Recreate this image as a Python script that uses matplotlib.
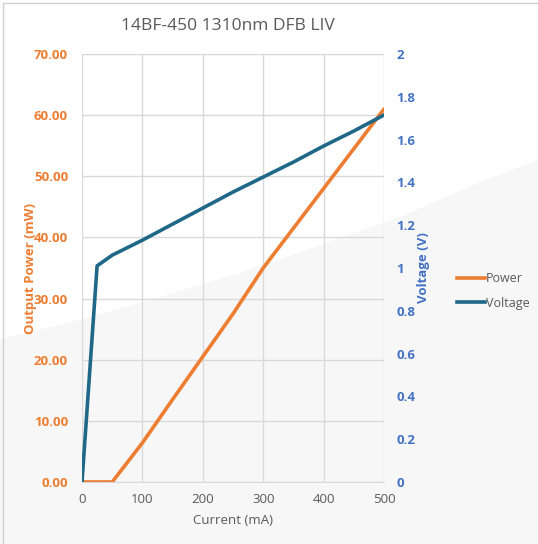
import matplotlib.pyplot as plt
from matplotlib.patches import Polygon
from matplotlib.lines import Line2D

plt.rcParams['font.family'] = ['Open Sans', 'DejaVu Sans']

current = [0, 25, 50, 100, 150, 200, 250, 300, 350, 400, 450, 500]
power = [0, 0, 0, 6.4, 13.5, 20.5, 27.5, 35.0, 41.5, 48.0, 54.5, 61.0]
voltage = [0, 1.01, 1.06, 1.13, 1.205, 1.28, 1.355, 1.425, 1.495, 1.57, 1.64, 1.715]

power_ticks = [0, 10, 20, 30, 40, 50, 60, 70]
volt_ticks = [0, 0.2, 0.4, 0.6, 0.8, 1, 1.2, 1.4, 1.6, 1.8, 2]
volt_labels = ['0', '0.2', '0.4', '0.6', '0.8', '1', '1.2', '1.4', '1.6', '1.8', '2']

orange = '#ED7D31'
teal = '#1F6888'
blue = '#4472C4'
grey_text = '#595959'

W, H = 538, 544
fig = plt.figure(figsize=(W / 100, H / 100), dpi=100)
fig.patch.set_facecolor('white')

# light grey swoosh in the background
edge = [(0, 339), (60, 325), (150, 300), (240, 273), (400, 217), (480, 182), (538, 160)]
pts = [(x / W, 1 - y / H) for x, y in edge] + [(1, 0), (0, 0)]
fig.patches.append(Polygon(pts, closed=True, transform=fig.transFigure,
                           facecolor='#F7F7F7', edgecolor='none', zorder=-10))
# thin frame at left and top
fig.add_artist(Line2D([3 / W, 3 / W], [0, 1 - 3 / H], transform=fig.transFigure,
                      color='#D0D0D0', lw=1, zorder=-5))
fig.add_artist(Line2D([3 / W, 1], [1 - 3 / H, 1 - 3 / H], transform=fig.transFigure,
                      color='#D0D0D0', lw=1, zorder=-5))

ax = fig.add_axes([82 / W, 1 - 482 / H, (384 - 82) / W, (482 - 54) / H])
ax.set_facecolor('none')
ax2 = ax.twinx()
ax2.set_facecolor('none')

ax.plot(current, power, color=orange, lw=2.6, solid_capstyle='round', zorder=3)
ax2.plot(current, voltage, color=teal, lw=2.6, solid_capstyle='round', zorder=3)

ax.set_xlim(0, 500)
ax.set_ylim(0, 70)
ax2.set_ylim(0, 2)
ax.set_xticks([0, 100, 200, 300, 400, 500])
ax.set_yticks(power_ticks)
ax.set_yticklabels(['%.2f' % v for v in power_ticks])
ax2.set_yticks(volt_ticks)
ax2.set_yticklabels(volt_labels)

ax.grid(True, color='#D9D9D9', lw=1)
ax.set_axisbelow(True)
for a in (ax, ax2):
    for s in a.spines.values():
        s.set_visible(False)
ax.spines['bottom'].set_visible(True)
ax.spines['bottom'].set_color('#D9D9D9')

ax.tick_params(axis='x', length=0, pad=8, labelsize=9.5, labelcolor=grey_text)
ax.tick_params(axis='y', length=0, pad=10, labelsize=9.5, labelcolor=orange)
ax2.tick_params(axis='y', length=0, pad=9, labelsize=9.5, labelcolor=blue)
for lab in ax.get_yticklabels():
    lab.set_fontweight('bold')
for lab in ax2.get_yticklabels():
    lab.set_fontweight('bold')

ax.set_xlabel('Current (mA)', fontsize=9.5, color=grey_text, labelpad=6)
ax.set_ylabel('Output Power (mW)', fontsize=9.5, color=orange, fontweight='bold', labelpad=-2)
ax2.set_ylabel('Voltage (V)', fontsize=9.5, color=blue, fontweight='bold', labelpad=1)

fig.text(228 / W, 1 - 26 / H, '14BF-450 1310nm DFB LIV', ha='center', va='center',
         fontsize=12.5, color=grey_text)

handles = [Line2D([], [], color=orange, lw=2.6), Line2D([], [], color=teal, lw=2.6)]
fig.legend(handles, ['Power', 'Voltage'], loc='center left',
           bbox_to_anchor=(446 / W, 1 - 291 / H), frameon=False, fontsize=9,
           labelcolor=grey_text, handlelength=2.2, handletextpad=0.1, labelspacing=0.9)

fig.savefig('out.png', dpi=100)
